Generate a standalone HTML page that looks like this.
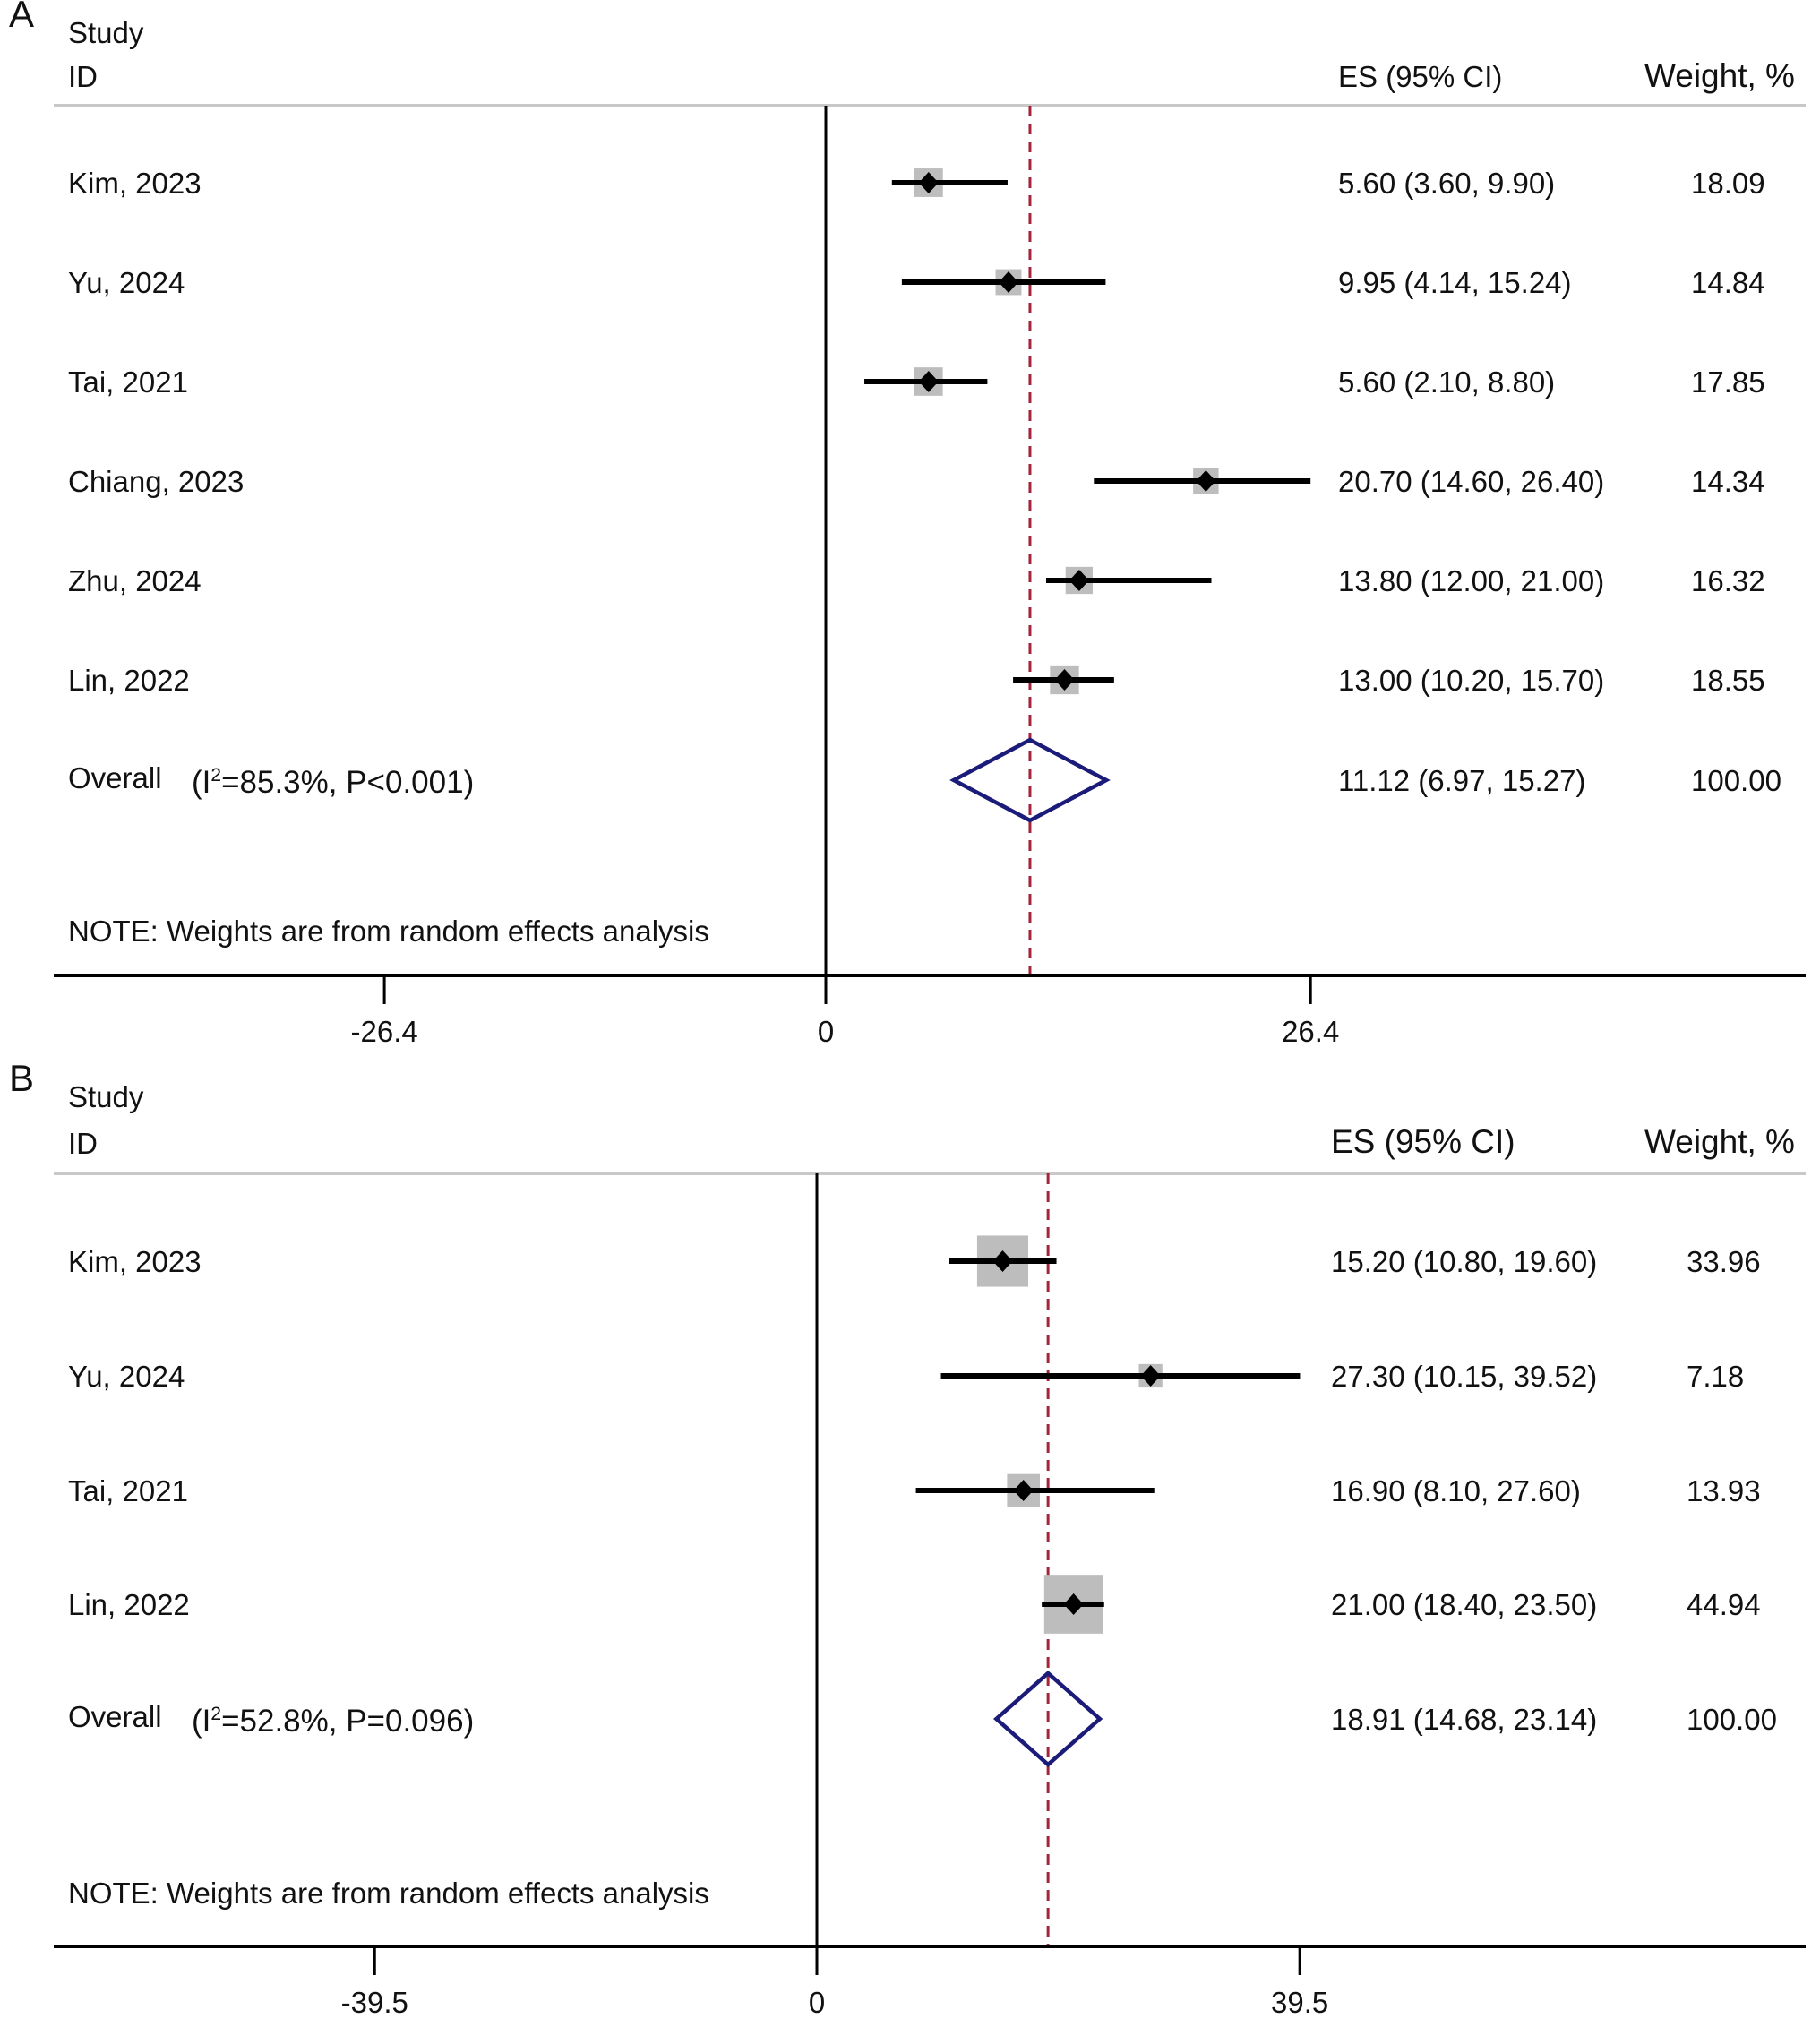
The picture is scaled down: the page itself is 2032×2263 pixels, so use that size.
<!DOCTYPE html>
<html><head><meta charset="utf-8"><style>
html,body{margin:0;padding:0;background:#fff;}
svg{display:block;font-family:"Liberation Sans",Arial,sans-serif;}
</style></head><body>
<svg id="chart" width="2032" height="2263" viewBox="0 0 2032 2263" xmlns="http://www.w3.org/2000/svg"></svg>
<script>
// Panel A data
const studiesA = ["Kim, 2023","Yu, 2024","Tai, 2021","Chiang, 2023","Zhu, 2024","Lin, 2022"];
const esA = [5.60, 9.95, 5.60, 20.70, 13.80, 13.00];
const loA = [3.60, 4.14, 2.10, 14.60, 12.00, 10.20];
const hiA = [9.90, 15.24, 8.80, 26.40, 21.00, 15.70];
const weightA = [18.09, 14.84, 17.85, 14.34, 16.32, 18.55];
const overallA = [11.12, 6.97, 15.27];
const ticksA = [-26.4, 0, 26.4];
const hetA = "=85.3%, P<0.001)";
// Panel B data
const studiesB = ["Kim, 2023","Yu, 2024","Tai, 2021","Lin, 2022"];
const esB = [15.20, 27.30, 16.90, 21.00];
const loB = [10.80, 10.15, 8.10, 18.40];
const hiB = [19.60, 39.52, 27.60, 23.50];
const weightB = [33.96, 7.18, 13.93, 44.94];
const overallB = [18.91, 14.68, 23.14];
const ticksB = [-39.5, 0, 39.5];
const hetB = "=52.8%, P=0.096)";

const svg = document.getElementById('chart');
const NS = "http://www.w3.org/2000/svg";
function mk(tag, attrs, name, text){
  const e = document.createElementNS(NS, tag);
  for (const k in attrs) e.setAttribute(k, attrs[k]);
  
  
  if (text !== undefined) e.textContent = text;
  svg.appendChild(e);
  return e;
}
const f2 = v => v.toFixed(2);
const FS = 33;

function panel(cfg){
  const {letter, top, studies, es, lo, hi, w, overall, ticks, het, x0, unit, negUnit, rowY, overallY, noteY, axisY, boxK, dHalfH, esX, wX, headY, idY, studyY} = cfg;
  const X = v => x0 + v*(v < 0 ? negUnit : unit);
  mk('text',{x:10,y:top+20,'font-size':42,fill:'#111'},'panel-label-'+letter.toLowerCase(),letter);
  mk('text',{x:76,y:studyY,'font-size':FS,fill:'#111'},'study-header','Study');
  mk('text',{x:76,y:idY,'font-size':FS,fill:'#111'},'id-header','ID');
  mk('text',{x:esX,y:headY,'font-size':cfg.esHeadSize,fill:'#111'},'es-header','ES (95% CI)');
  mk('text',{x:1836,y:headY,'font-size':37,fill:'#111'},'weight-header','Weight, %');
  mk('line',{x1:60,x2:2016,y1:cfg.lineY,y2:cfg.lineY,stroke:'#c8c8c8','stroke-width':4},'header-rule');
  mk('line',{x1:x0,x2:x0,y1:cfg.lineY,y2:axisY,stroke:'#000','stroke-width':3},'null-line');
  mk('line',{x1:X(overall[0]),x2:X(overall[0]),y1:cfg.lineY,y2:axisY,stroke:'#a3243b','stroke-width':3,'stroke-dasharray':'12,8'},'overall-effect-line');
  studies.forEach((s,i)=>{
    const y = rowY[i];
    mk('text',{x:76,y:y+12,'font-size':FS,fill:'#111'},'study-label',s);
    const side = boxK*Math.sqrt(w[i]);
    mk('rect',{x:X(es[i])-side/2,y:y-side/2,width:side,height:side,fill:'#bdbdbd'},'weight-box');
    mk('line',{x1:X(lo[i]),x2:X(hi[i]),y1:y,y2:y,stroke:'#000','stroke-width':6},'ci-line');
    const cx=X(es[i]);
    mk('polygon',{points:`${cx-11},${y} ${cx},${y-12} ${cx+11},${y} ${cx},${y+12}`,fill:'#000'},'point-estimate');
    mk('text',{x:esX,y:y+12,'font-size':FS,fill:'#111'},'es-value',`${f2(es[i])} (${f2(lo[i])}, ${f2(hi[i])})`);
    mk('text',{x:wX,y:y+12,'font-size':FS,fill:'#111'},'weight-value',f2(w[i]));
  });
  const oy = overallY;
  mk('text',{x:76,y:oy+9,'font-size':FS,fill:'#111'},'overall-label','Overall');
  const t = mk('text',{x:214,y:oy+14,'font-size':35,fill:'#111'},'heterogeneity-label');
  t.innerHTML = '(I<tspan dy="-13" font-size="21">2</tspan><tspan dy="13">'+het+'</tspan>';
  mk('polygon',{points:`${X(overall[1])},${oy} ${X(overall[0])},${oy-dHalfH} ${X(overall[2])},${oy} ${X(overall[0])},${oy+dHalfH}`,fill:'none',stroke:'#1b1b7a','stroke-width':4.5},'overall-diamond');
  mk('text',{x:esX,y:oy+12,'font-size':FS,fill:'#111'},'overall-es-value',`${f2(overall[0])} (${f2(overall[1])}, ${f2(overall[2])})`);
  mk('text',{x:wX,y:oy+12,'font-size':FS,fill:'#111'},'overall-weight','100.00');
  mk('text',{x:76,y:noteY+12,'font-size':FS,fill:'#111'},'note-text','NOTE: Weights are from random effects analysis');
  mk('line',{x1:60,x2:2016,y1:axisY,y2:axisY,stroke:'#000','stroke-width':4},'x-axis');
  ticks.forEach(v=>{
    mk('line',{x1:X(v),x2:X(v),y1:axisY,y2:axisY+32,stroke:'#000','stroke-width':3},'x-tick');
    mk('text',{x:X(v),y:axisY+74,'font-size':FS,fill:'#111','text-anchor':'middle'},'x-tick-label',String(v));
  });
}

panel({letter:'A',top:10,studies:studiesA,es:esA,lo:loA,hi:hiA,w:weightA,overall:overallA,ticks:ticksA,het:hetA,
  x0:922,unit:20.5,negUnit:18.67,rowY:[204,315,426,537,648,759],overallY:871,noteY:1039,axisY:1089,boxK:7.5,dHalfH:45,
  esX:1494,wX:1888,headY:97,esHeadSize:33,idY:97,studyY:48,lineY:118});
panel({letter:'B',top:1198,studies:studiesB,es:esB,lo:loB,hi:hiB,w:weightB,overall:overallB,ticks:ticksB,het:hetB,
  x0:912,unit:13.65,negUnit:12.5,rowY:[1408,1536,1664,1791],overallY:1919,noteY:2113,axisY:2173,boxK:9.8,dHalfH:51,
  esX:1486,wX:1883,headY:1287,esHeadSize:37,idY:1288,studyY:1236,lineY:1310});
</script>
</body></html>
